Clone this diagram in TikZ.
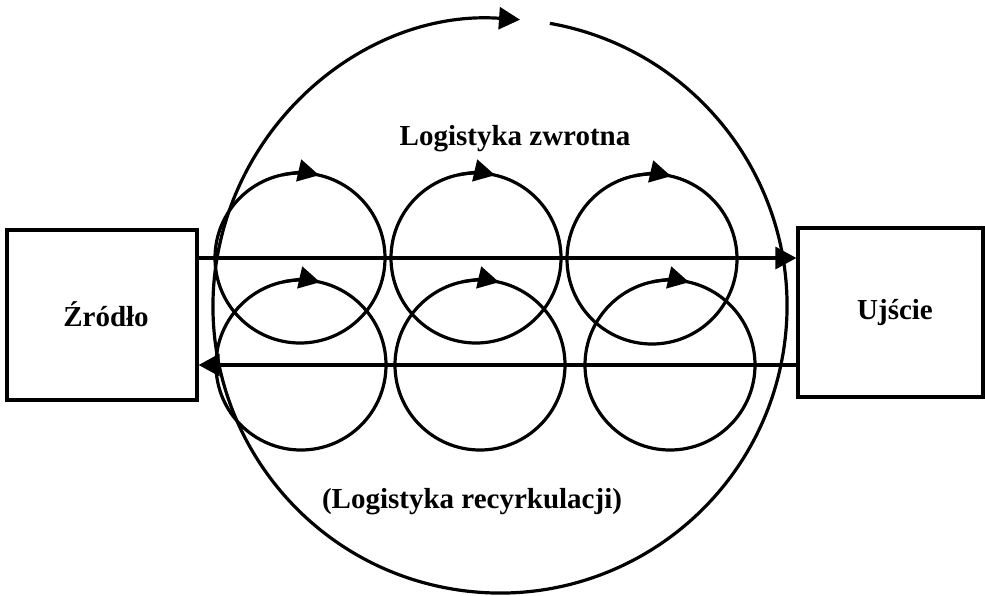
\documentclass[tikz,border=0pt]{standalone}
\usepackage{fontspec}
\setmainfont{Liberation Serif}
\usetikzlibrary{arrows.meta}
\begin{document}
\begin{tikzpicture}[x=1pt,y=-1pt,line width=3.2pt,
  ring/.style={circle,draw,minimum size=170pt,inner sep=0pt},
  boxnode/.style={draw,rectangle,inner sep=0pt},
  lbl/.style={font=\fontsize{29}{32}\selectfont\bfseries,anchor=base,inner sep=0pt},
  tip/.style={-{Triangle[length=21pt,width=22pt]}}]
\useasboundingbox (0,0) rectangle (985,595);
% boxes
\node[boxnode,minimum width=190pt,minimum height=170pt] (zr) at (102,315) {};
\node[boxnode,minimum width=185pt,minimum height=169pt] (uj) at (890.5,312.5) {};
\node[lbl] (zrt) at (106,326) {Źródło};
\node[lbl] (ujt) at (895,319) {Ujście};
% big circle
\coordinate (bc) at (500,306);
\draw[tip] (bc) ++(-80:287) arc[start angle=-80,end angle=274,radius=287];
% small circles
\node[ring] (t1) at (300,258) {};
\node[ring] (t2) at (476,258) {};
\node[ring] (t3) at (652,259) {};
\node[ring] (b1) at (301,365) {};
\node[ring] (b2) at (480,365) {};
\node[ring] (b3) at (670,365) {};
\foreach \c in {t1,t2,t3,b1,b2,b3}{
  \draw[tip] (\c.center) ++(258:85) arc[start angle=258,end angle=283,radius=85];
}
% flows
\draw[tip] (zr.east |- t1) -- (uj.west |- t1);
\draw[tip] (uj.west |- b1) -- (zr.east |- b1);
% labels
\node[lbl] (lz) at (515,145) {Logistyka zwrotna};
\node[lbl] (lr) at (472,508) {(Logistyka recyrkulacji)};
\end{tikzpicture}
\end{document}
